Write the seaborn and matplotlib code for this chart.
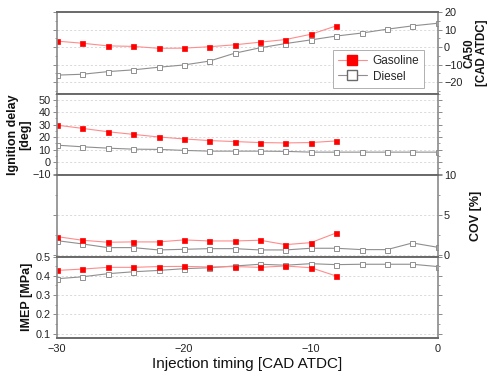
import numpy as np
import pandas as pd
import matplotlib
matplotlib.use("Agg")
import matplotlib.pyplot as plt
from matplotlib.ticker import MultipleLocator, AutoMinorLocator
from matplotlib.lines import Line2D
import seaborn as sns

# data
timing_gas = [-30, -28, -26, -24, -22, -20, -18, -16, -14, -12, -10, -8]
timing_dsl = [-30, -28, -26, -24, -22, -20, -18, -16, -14, -12, -10, -8, -6, -4, -2, 0]

ca50_gas = [3.4, 2.2, 0.7, 0.4, -0.7, -0.6, 0.2, 1.3, 2.8, 4.3, 7.3, 12.1]
ca50_dsl = [-16.0, -15.5, -14.0, -13.0, -11.5, -10.2, -8.0, -3.5, -0.4, 2.0, 4.1, 6.3,
            8.0, 10.2, 12.1, 13.6]

igd_gas = [29.6, 27.0, 24.3, 22.2, 20.1, 18.5, 17.2, 16.4, 15.6, 15.3, 15.6, 16.9]
igd_dsl = [13.5, 12.2, 11.1, 10.3, 10.1, 9.3, 8.7, 8.7, 8.7, 8.5, 7.9, 7.9,
           7.9, 7.9, 7.9, 7.9]

cov_gas = [2.33, 1.88, 1.63, 1.67, 1.67, 1.92, 1.79, 1.79, 1.88, 1.33, 1.58, 2.79]
cov_dsl = [1.83, 1.42, 0.96, 0.96, 0.67, 0.75, 0.83, 0.83, 0.67, 0.67, 0.88, 0.88,
           0.71, 0.71, 1.54, 1.0]

imep_gas = [0.428, 0.435, 0.444, 0.444, 0.448, 0.449, 0.446, 0.448, 0.444, 0.451, 0.442, 0.399]
imep_dsl = [0.385, 0.395, 0.411, 0.421, 0.428, 0.437, 0.442, 0.451, 0.460, 0.455, 0.463, 0.458,
            0.460, 0.460, 0.460, 0.448]

gas = pd.DataFrame({"t": timing_gas, "ca50": ca50_gas, "igd": igd_gas, "cov": cov_gas, "imep": imep_gas})
dsl = pd.DataFrame({"t": timing_dsl, "ca50": ca50_dsl, "igd": igd_dsl, "cov": cov_dsl, "imep": imep_dsl})

sns.set_style("white")
plt.rcParams["font.family"] = ["Liberation Sans", "DejaVu Sans"]

fig = plt.figure(figsize=(4.87, 3.76), dpi=100)
gs = fig.add_gridspec(4, 1, left=0.117, right=0.899, top=0.968, bottom=0.101, hspace=0)
axes = [fig.add_subplot(gs[i]) for i in range(4)]

gas_style = dict(color="#ff8c8c", lw=0.8, marker="s", markersize=3.6,
                 markerfacecolor="#ff0000", markeredgecolor="#ff0000", markeredgewidth=0.5)
dsl_style = dict(color="#8f8f8f", lw=0.8, marker="s", markersize=3.6,
                 markerfacecolor="white", markeredgecolor="#8f8f8f", markeredgewidth=0.7)

cols = ["ca50", "igd", "cov", "imep"]
ylims = [(-26.5, 20), (-10.5, 55), (-0.15, 10), (0.078, 0.5)]
majors = [10, 10, 5, 0.1]
right_side = [True, False, True, False]

for ax, c, yl, mj, rs in zip(axes, cols, ylims, majors, right_side):
    sns.lineplot(data=dsl, x="t", y=c, ax=ax, **dsl_style)
    sns.lineplot(data=gas, x="t", y=c, ax=ax, **gas_style)
    ax.set_xlim(-30, 0)
    ax.set_ylim(*yl)
    ax.yaxis.set_major_locator(MultipleLocator(mj))
    ax.yaxis.set_minor_locator(AutoMinorLocator(2))
    ax.xaxis.set_major_locator(MultipleLocator(10))
    ax.xaxis.set_minor_locator(MultipleLocator(5))
    ax.grid(True, axis="y", which="major", color="#d4d4d4", lw=0.6, ls=(0, (2.5, 2.5)))
    ax.set_xlabel("")
    ax.set_ylabel("")
    for s in ["left", "right"]:
        ax.spines[s].set_color("#8a8a8a")
        ax.spines[s].set_linewidth(1.2)
    for s in ["top", "bottom"]:
        ax.spines[s].set_color("#6a6a6a")
        ax.spines[s].set_linewidth(1.4)
    ax.tick_params(axis="both", which="both", direction="out", colors="#8a8a8a",
                   labelcolor="#222222", labelsize=7.8, pad=1.5)
    ax.tick_params(which="major", length=3, width=0.7)
    ax.tick_params(which="minor", length=1.6, width=0.6)
    if rs:
        ax.yaxis.tick_right()
        ax.yaxis.set_label_position("right")
        ax.tick_params(axis="y", which="both", left=True, right=True, labelleft=False, labelright=True)
    else:
        ax.tick_params(axis="y", which="both", left=True, right=True, labelleft=True, labelright=False)
    if ax is not axes[-1]:
        ax.tick_params(axis="x", which="both", bottom=False, labelbottom=False)

axes[0].set_yticks([-20, -10, 0, 10, 20])
axes[1].set_yticks([-10, 0, 10, 20, 30, 40, 50])
axes[2].set_yticks([0, 5, 10])
axes[3].set_yticks([0.1, 0.2, 0.3, 0.4, 0.5])
axes[3].set_yticklabels(["0.1", "0.2", "0.3", "0.4", "0.5"])

lab = dict(fontsize=9, fontweight="bold", color="#111111", linespacing=1.0)
axes[0].set_ylabel("CA50\n[CAD ATDC]", labelpad=1, fontsize=8.3, fontweight="bold",
                   color="#111111", linespacing=1.0)
axes[1].set_ylabel("Ignition delay\n[deg]", labelpad=1, **lab)
axes[2].set_ylabel("COV [%]", labelpad=10, **lab)
axes[3].set_ylabel("IMEP [MPa]", labelpad=2, **lab)
axes[3].set_xlabel("Injection timing [CAD ATDC]", fontsize=11, color="#111111", labelpad=2)

handles = [
    Line2D([], [], color="#ff8c8c", lw=0.8, marker="s", markersize=7,
           markerfacecolor="#ff0000", markeredgecolor="#ff0000"),
    Line2D([], [], color="#8f8f8f", lw=0.8, marker="s", markersize=7,
           markerfacecolor="white", markeredgecolor="#6a6a6a"),
]
leg = axes[0].legend(handles, ["Gasoline", "Diesel"], loc="lower right",
                     bbox_to_anchor=(0.965, 0.07), borderaxespad=0, fontsize=8.5, frameon=True,
                     fancybox=False, framealpha=1, edgecolor="#b0b0b0",
                     handlelength=2.4, borderpad=0.45, labelspacing=0.3, handletextpad=0.5)
leg.get_frame().set_linewidth(0.7)

fig.savefig("out.png", dpi=100)
